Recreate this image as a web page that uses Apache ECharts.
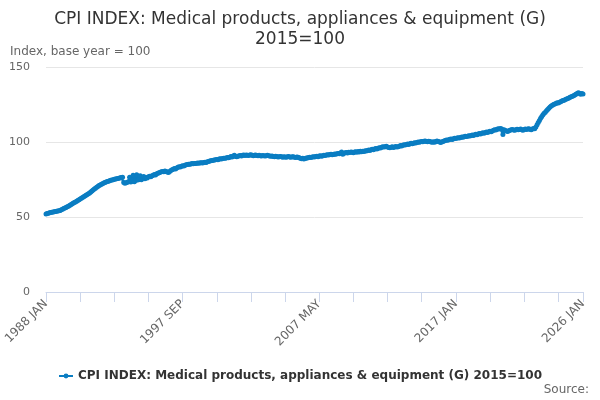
<!DOCTYPE html>
<html>
<head>
<meta charset="utf-8">
<script src="https://cdn.jsdelivr.net/npm/echarts@6/dist/echarts.min.js"></script>
<style>
  html, body { margin: 0; padding: 0; background: #fff; }
  #chart { width: 600px; height: 400px; }
</style>
</head>
<body>
<div id="chart"></div>
<script>
// chart data, one row per year (monthly values)
const startYear = 1988
const monthNames = ['JAN', 'FEB', 'MAR', 'APR', 'MAY', 'JUN', 'JUL', 'AUG', 'SEP', 'OCT', 'NOV', 'DEC']
const seriesName = 'CPI INDEX: Medical products, appliances & equipment (G) 2015=100'
const values = [
  52.0, 52.3, 52.5, 52.8, 53.0, 53.1, 53.3, 53.5, 53.6, 53.8, 54.0, 54.2, // 1988
  54.4, 54.8, 55.2, 55.6, 56.0, 56.4, 56.8, 57.1, 57.6, 58.1, 58.7, 59.2, // 1989
  59.6, 60.0, 60.5, 61.0, 61.5, 62.0, 62.5, 63.0, 63.5, 64.0, 64.5, 65.0, // 1990
  65.5, 66.0, 66.6, 67.3, 68.0, 68.6, 69.2, 69.8, 70.4, 71.0, 71.4, 71.8, // 1991
  72.2, 72.6, 73.0, 73.3, 73.6, 73.9, 74.2, 74.5, 74.7, 74.9, 75.1, 75.3, // 1992
  75.5, 75.7, 75.9, 76.1, 76.3, 76.5, 73.0, 72.5, 72.8, 73.2, 73.5, 76.5, // 1993
  73.4, 74.0, 77.8, 73.5, 74.3, 78.2, 74.6, 75.0, 77.5, 74.8, 75.9, 77.0, // 1994
  75.5, 76.3, 76.0, 76.8, 77.2, 76.9, 77.5, 77.9, 78.4, 78.0, 78.8, 79.2, // 1995
  79.5, 79.9, 80.2, 80.4, 80.1, 80.6, 80.3, 80.0, 79.6, 80.4, 81.0, 81.5, // 1996
  81.9, 82.3, 82.0, 82.7, 83.1, 83.5, 83.3, 83.9, 84.2, 84.0, 84.5, 84.8, // 1997
  85.0, 85.2, 85.1, 85.4, 85.6, 85.5, 85.7, 85.6, 85.9, 86.0, 85.8, 86.1, // 1998
  86.2, 86.0, 86.3, 86.5, 86.4, 86.8, 87.0, 87.3, 87.5, 87.6, 87.9, 88.0, // 1999
  88.1, 88.3, 88.2, 88.6, 88.8, 88.7, 89.0, 89.2, 89.1, 89.4, 89.6, 89.5, // 2000
  89.9, 90.3, 90.0, 90.6, 91.2, 90.4, 90.2, 90.5, 90.9, 91.0, 90.7, 91.1, // 2001
  91.3, 91.0, 91.4, 91.2, 91.0, 91.3, 91.5, 91.2, 90.9, 91.1, 91.3, 91.0, // 2002
  90.8, 91.1, 90.9, 90.7, 91.0, 90.8, 90.6, 90.9, 91.1, 90.8, 90.6, 90.5, // 2003
  90.7, 90.4, 90.2, 90.5, 90.3, 90.0, 90.2, 90.4, 90.1, 89.9, 90.2, 90.0, // 2004
  89.8, 90.1, 90.3, 90.0, 89.8, 90.1, 90.2, 89.9, 89.7, 90.0, 89.8, 89.5, // 2005
  89.2, 88.9, 89.1, 88.7, 89.0, 89.4, 89.3, 89.6, 89.9, 89.7, 90.0, 90.2, // 2006
  90.0, 90.3, 90.5, 90.2, 90.6, 90.8, 90.5, 90.9, 91.1, 91.0, 91.3, 91.5, // 2007
  91.4, 91.6, 91.8, 91.5, 91.7, 92.0, 91.8, 92.2, 92.4, 92.1, 92.6, 93.3, // 2008
  91.9, 92.5, 92.8, 93.0, 92.7, 93.2, 93.0, 93.4, 93.1, 92.9, 93.3, 93.5, // 2009
  93.2, 93.6, 93.4, 93.8, 93.5, 93.9, 93.7, 94.2, 94.0, 94.4, 94.6, 94.3, // 2010
  94.8, 95.1, 94.9, 95.4, 95.7, 95.3, 95.9, 96.2, 96.0, 96.5, 96.8, 96.6, // 2011
  96.9, 97.1, 96.7, 96.4, 96.2, 96.5, 96.8, 96.3, 96.6, 97.0, 96.7, 96.9, // 2012
  97.2, 97.6, 97.4, 97.9, 98.2, 98.0, 98.4, 98.6, 98.3, 98.8, 99.1, 98.9, // 2013
  99.2, 99.5, 99.3, 99.7, 100.0, 99.8, 100.2, 100.4, 100.1, 100.5, 100.7, 100.4, // 2014
  100.2, 100.5, 100.3, 100.0, 99.8, 100.1, 99.9, 100.3, 100.6, 100.4, 100.1, 99.7, // 2015
  100.0, 100.4, 100.7, 101.0, 101.3, 101.1, 101.5, 101.8, 102.0, 101.7, 102.2, 102.5, // 2016
  102.3, 102.6, 102.9, 102.7, 103.0, 103.3, 103.1, 103.5, 103.8, 103.6, 103.9, 104.2, // 2017
  104.0, 104.3, 104.6, 104.4, 104.8, 105.1, 104.9, 105.3, 105.6, 105.4, 105.8, 106.1, // 2018
  105.9, 106.3, 106.6, 106.4, 106.8, 107.1, 106.9, 107.4, 107.8, 108.2, 108.0, 108.5, // 2019
  108.9, 108.7, 109.0, 108.6, 105.0, 108.2, 107.7, 107.3, 107.0, 107.5, 107.9, 108.2, // 2020
  108.4, 108.0, 107.8, 108.2, 108.5, 108.1, 108.3, 108.6, 108.2, 107.9, 108.4, 108.7, // 2021
  108.3, 108.6, 108.9, 108.5, 108.2, 108.7, 109.0, 108.8, 110.0, 111.5, 113.0, 114.4, // 2022
  115.8, 117.0, 118.2, 119.1, 119.9, 120.8, 121.6, 122.5, 123.3, 124.0, 124.5, 125.0, // 2023
  125.3, 125.7, 126.2, 126.0, 126.5, 126.9, 127.3, 127.6, 127.9, 128.3, 128.7, 129.0, // 2024
  129.4, 129.8, 130.2, 130.5, 130.9, 131.3, 131.8, 132.4, 132.9, 132.5, 131.9, 132.3, // 2025
  132.0 // 2026
]
const yTicks = [0, 50, 100, 150]

const categories = values.map((v, i) => `${startYear + Math.floor(i / 12)} ${monthNames[i % 12]}`)
const lastIndex = categories.length - 1
const tickStep = 29 // one tick every 29 months
const labelStep = 116 // a label on every fourth tick

const fontFamily = 'DejaVu Sans'
const chart = echarts.init(document.getElementById('chart'))

chart.setOption({
  animation: false,
  textStyle: { fontFamily },
  title: {
    text: 'CPI INDEX: Medical products, appliances & equipment (G)\n2015=100',
    left: 'center',
    top: 5,
    textStyle: { fontSize: 17, fontWeight: 'normal', color: '#333', lineHeight: 20, fontFamily }
  },
  graphic: [
    {
      type: 'text', left: 10, top: 46,
      style: { text: 'Index, base year = 100', fontSize: 12, fill: '#666', fontFamily }
    },
    {
      type: 'text', right: 11, top: 384,
      style: { text: 'Source:', fontSize: 12, fill: '#666', fontFamily }
    }
  ],
  legend: {
    top: 365,
    left: 'center',
    itemWidth: 14,
    itemHeight: 6,
    itemGap: 5,
    textStyle: { fontSize: 12, fontWeight: 'bold', color: '#333', fontFamily },
    data: [seriesName]
  },
  grid: { left: 46, right: 17, top: 67, bottom: 108 },
  xAxis: {
    type: 'category',
    data: categories,
    boundaryGap: false,
    axisLine: { lineStyle: { color: '#ccd6eb' } },
    axisTick: {
      length: 10,
      lineStyle: { color: '#ccd6eb' },
      interval: (index) => index % tickStep === 0 || index === lastIndex
    },
    axisLabel: {
      rotate: 45,
      fontSize: 12,
      color: '#666',
      margin: 10,
      interval: (index) => index % labelStep === 0 || index === lastIndex
    }
  },
  yAxis: {
    type: 'value',
    min: yTicks[0],
    max: yTicks[yTicks.length - 1],
    interval: 50,
    axisLine: { show: false },
    axisTick: { show: false },
    splitLine: { lineStyle: { color: '#e6e6e6' } },
    axisLabel: { fontSize: 11, color: '#666', margin: 16 }
  },
  series: [{
    name: seriesName,
    type: 'line',
    data: values,
    color: '#0a7dc2',
    symbol: 'circle',
    symbolSize: 5,
    showSymbol: true,
    showAllSymbol: true,
    lineStyle: { width: 2.5 }
  }]
})
</script>
</body>
</html>
